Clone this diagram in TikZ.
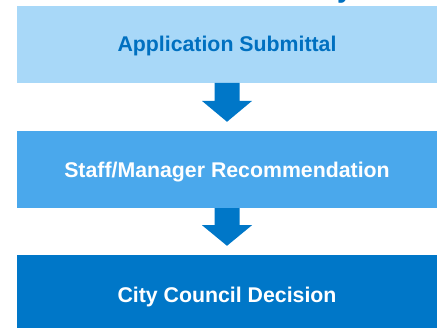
\documentclass[tikz,border=0pt]{standalone}
\usepackage{fontspec}
\setmainfont{Liberation Sans}
\definecolor{boxA}{HTML}{A8D8F8}
\definecolor{boxB}{HTML}{4AA8EC}
\definecolor{boxC}{HTML}{0077C8}
\definecolor{txtA}{HTML}{0070C0}
\tikzset{
  x=1pt, y=1pt,
  stage/.style={rectangle, inner sep=0pt, minimum width=420pt, minimum height=77pt,
    font=\fontsize{21.3}{25}\selectfont\bfseries, text height=15.25pt, text depth=0pt},
  stageA/.style={stage, fill=boxA, text=txtA},
  stageB/.style={stage, fill=boxB, text=white},
  stageC/.style={stage, fill=boxC, text=white, minimum height=79pt},
  flowfill/.style={fill=boxC}
}
\newcommand{\flowarr}[3]{% from node, to node, shaft length
  \fill[flowfill] ([xshift=-12.5pt]#1.south) -- ([xshift=-12.5pt,yshift=-#3]#1.south)
    -- ([xshift=-25pt,yshift=-#3]#1.south) -- ([yshift=9pt]#2.north)
    -- ([xshift=25pt,yshift=-#3]#1.south) -- ([xshift=12.5pt,yshift=-#3]#1.south)
    -- ([xshift=12.5pt]#1.south) -- cycle;}
\begin{document}
\begin{tikzpicture}
\useasboundingbox (0,0) rectangle (437,328);
\clip (0,0) rectangle (437,328);
\node[anchor=base west, text=txtA, font=\fontsize{28}{30}\selectfont\bfseries, inner sep=0pt] (ttl) at (337,330) {y};
\node[stageA] (b1) at (227,283.75) {Application Submittal};
\node[stageB] (b2) at (227,158.5) {Staff/Manager Recommendation};
\node[stageC] (b3) at (227,33.5) {City Council Decision};
\flowarr{b1}{b2}{18pt}
\flowarr{b2}{b3}{17pt}
\end{tikzpicture}
\end{document}
